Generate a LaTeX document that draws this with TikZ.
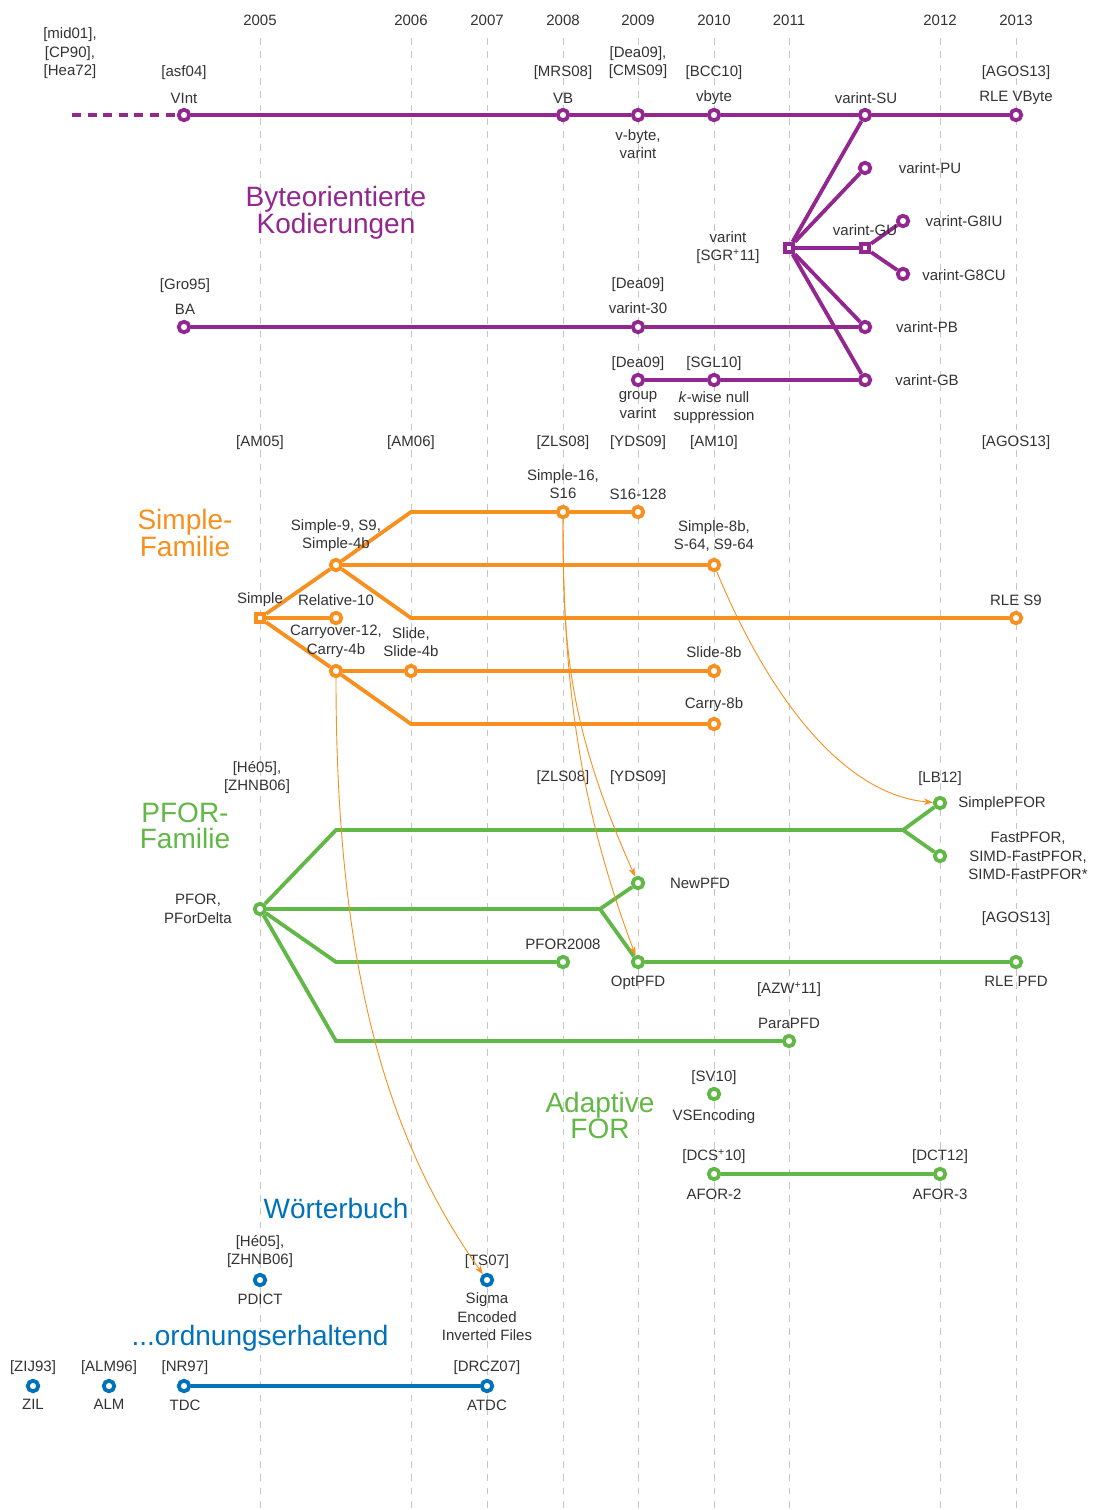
\documentclass[tikz,border=0pt]{standalone}
\usepackage{fontspec}
\setmainfont{Liberation Sans}
\usetikzlibrary{arrows.meta}
\definecolor{pur}{HTML}{92278F}
\definecolor{ora}{HTML}{F7901E}
\definecolor{grn}{HTML}{62B846}
\definecolor{blu}{HTML}{0071BB}
\definecolor{txt}{HTML}{333333}
\definecolor{gridc}{HTML}{C6C6C6}
\newcommand\lbfont{\fontsize{15}{18.5}\selectfont}
\newcommand\ttlfont{\fontsize{28}{26}\selectfont}

\begin{document}
\begin{tikzpicture}[x=1pt,y=-1pt,
  lb/.style={font=\lbfont, text=txt, align=center, inner sep=0pt, yshift=-1.7pt,
    execute at begin node=\strut, execute at end node=\strut},
  ttl/.style={font=\ttlfont, text=#1, align=center, inner sep=0pt, yshift=-4.8pt,
    execute at begin node=\strut, execute at end node=\strut},
  dot/.style={circle, draw=#1, fill=white, line width=3.8pt, inner sep=0pt, minimum size=10.5pt},
  sq/.style={rectangle, draw=#1, fill=white, line width=3.8pt, inner sep=0pt, minimum size=8.5pt},
  track/.style={draw=#1, line width=3.8pt},
  refarrow/.style={draw=ora, line width=0.9pt, -{Stealth[length=9pt,width=6.5pt]}},
  gridline/.style={draw=gridc, line width=0.9pt, dash pattern=on 6.7pt off 6.6pt}
]
\useasboundingbox[fill=white] (0,0) rectangle (1095,1510);

% year grid
\foreach \x/\yr in {260/2005,411/2006,487/2007,563/2008,638/2009,714/2010,789/2011,940/2012,1016/2013}{
  \draw[gridline] (\x,38) -- (\x,1510);
  \node[lb] at (\x,20) {\yr};
}

% ---------------- byte-oriented codes ----------------
\node[ttl=pur] at (336,209) {Byteorientierte\\Kodierungen};

\coordinate (vstart) at (72,115);
\node[dot=pur] (vint) at (184,115) {};
\node[dot=pur] (vb) at (563,115) {};
\node[dot=pur] (vbyte9) at (638,115) {};
\node[dot=pur] (vbyte10) at (714,115) {};
\node[dot=pur] (su) at (865,115) {};
\node[dot=pur] (rlevb) at (1016,115) {};
\node[dot=pur] (pu) at (865,168) {};
\node[sq=pur] (vsgr) at (789,248) {};
\node[sq=pur] (gu) at (865,248) {};
\node[dot=pur] (g8iu) at (903,221) {};
\node[dot=pur] (g8cu) at (903,274) {};
\node[dot=pur] (ba) at (184,327) {};
\node[dot=pur] (v30) at (638,327) {};
\node[dot=pur] (pb) at (865,327) {};
\node[dot=pur] (gv) at (638,380) {};
\node[dot=pur] (kw) at (714,380) {};
\node[dot=pur] (gb) at (865,380) {};

\draw[track=pur, dash pattern=on 9pt off 6.6pt] (vstart) -- (vint);
\draw[track=pur] (vint) -- (vb) -- (vbyte9) -- (vbyte10) -- (su) -- (rlevb);
\draw[track=pur] (vsgr) -- (su);
\draw[track=pur] (vsgr) -- (pu);
\draw[track=pur] (vsgr) -- (gu);
\draw[track=pur] (vsgr) -- (pb);
\draw[track=pur] (vsgr) -- (gb);
\draw[track=pur] (gu) -- (g8iu);
\draw[track=pur] (gu) -- (g8cu);
\draw[track=pur] (ba) -- (v30) -- (pb);
\draw[track=pur] (gv) -- (kw) -- (gb);

\node[lb] at (70,53) {[mid01],\\{[CP90],}\\{[Hea72]}};
\node[lb] at (184,71) {[asf04]};
\node[lb] at (184,98) {VInt};
\node[lb] at (563,71) {[MRS08]};
\node[lb] at (563,98) {VB};
\node[lb] at (638,62) {[Dea09],\\{[CMS09]}};
\node[lb] at (638,145) {v-byte,\\varint};
\node[lb] at (714,71) {[BCC10]};
\node[lb] at (714,96) {vbyte};
\node[lb] at (866,98) {varint-SU};
\node[lb] at (1016,71) {[AGOS13]};
\node[lb] at (1016,96) {RLE VByte};
\node[lb] at (930,168) {varint-PU};
\node[lb] at (964,221) {varint-G8IU};
\node[lb] at (964,275) {varint-G8CU};
\node[lb] at (865,230) {varint-GU};
\node[lb] at (728,247) {varint\\{[SGR\textsuperscript{+}11]}};
\node[lb] at (927,327) {varint-PB};
\node[lb] at (927,380) {varint-GB};
\node[lb] at (185,284) {[Gro95]};
\node[lb] at (185,309) {BA};
\node[lb] at (638,283) {[Dea09]};
\node[lb] at (638,308) {varint-30};
\node[lb] at (638,362) {[Dea09]};
\node[lb] at (714,362) {[SGL10]};
\node[lb] at (638,406) {group\\varint};
\node[lb] at (714,407) {\textit{k}-wise null\\suppression};

% ---------------- Simple family ----------------
\foreach \x/\r in {260/AM05,411/AM06,563/ZLS08,638/YDS09,714/AM10,1016/AGOS13}
  \node[lb] at (\x,441) {[\r]};

\node[ttl=ora] at (185,532) {Simple-\\Familie};

\node[sq=ora] (sim) at (260,618) {};
\node[dot=ora] (s9) at (336,565) {};
\node[dot=ora] (s16) at (563,512) {};
\node[dot=ora] (s16128) at (638,512) {};
\node[dot=ora] (s8b) at (714,565) {};
\node[dot=ora] (rel10) at (336,618) {};
\node[dot=ora] (rles9) at (1016,618) {};
\node[dot=ora] (c12) at (336,671) {};
\node[dot=ora] (slide) at (411,671) {};
\node[dot=ora] (slide8b) at (714,671) {};
\node[dot=ora] (carry8b) at (714,724) {};
\coordinate (o1) at (411,512);
\coordinate (o2) at (411,618);
\coordinate (o3) at (411,724);

\draw[track=ora] (sim) -- (s9);
\draw[track=ora] (sim) -- (rel10);
\draw[track=ora] (sim) -- (c12);
\draw[track=ora] (s9) -- (o1) -- (s16) -- (s16128);
\draw[track=ora] (s9) -- (s8b);
\draw[track=ora] (s9) -- (o2) -- (rles9);
\draw[track=ora] (c12) -- (slide) -- (slide8b);
\draw[track=ora] (c12) -- (o3) -- (carry8b);

\node[lb] at (563,485) {Simple-16,\\S16};
\node[lb] at (638,494) {S16-128};
\node[lb] at (336,535) {Simple-9, S9,\\Simple-4b};
\node[lb] at (714,536) {Simple-8b,\\S-64, S9-64};
\node[lb] at (260,598) {Simple};
\node[lb] at (336,600) {Relative-10};
\node[lb] at (336,641) {Carryover-12,\\Carry-4b};
\node[lb] at (411,643) {Slide,\\Slide-4b};
\node[lb] at (714,652) {Slide-8b};
\node[lb] at (714,703) {Carry-8b};
\node[lb] at (1016,600) {RLE S9};

% ---------------- PFOR family ----------------
\node[ttl=grn] at (185,825) {PFOR-\\Familie};

\node[dot=grn] (pfor) at (260,909) {};
\node[dot=grn] (spfor) at (940,803) {};
\node[dot=grn] (fpfor) at (940,856) {};
\node[dot=grn] (newpfd) at (638,883) {};
\node[dot=grn] (optpfd) at (638,962) {};
\node[dot=grn] (rlepfd) at (1016,962) {};
\node[dot=grn] (pfor08) at (563,962) {};
\node[dot=grn] (para) at (789,1041) {};
\node[dot=grn] (vse) at (714,1094) {};
\node[dot=grn] (afor2) at (714,1174) {};
\node[dot=grn] (afor3) at (940,1174) {};
\coordinate (g1) at (336,830);
\coordinate (gf1) at (903,830);
\coordinate (gf2) at (600,909);
\coordinate (g2) at (336,962);
\coordinate (g3) at (336,1041);

\draw[track=grn] (pfor) -- (g1) -- (gf1) -- (spfor);
\draw[track=grn] (gf1) -- (fpfor);
\draw[track=grn] (pfor) -- (gf2) -- (newpfd);
\draw[track=grn] (gf2) -- (optpfd) -- (rlepfd);
\draw[track=grn] (pfor) -- (g2) -- (pfor08);
\draw[track=grn] (pfor) -- (g3) -- (para);
\draw[track=grn] (afor2) -- (afor3);

\node[lb] at (257,777) {[Hé05],\\{[ZHNB06]}};
\node[lb] at (198,910) {PFOR,\\PForDelta};
\node[lb] at (563,776) {[ZLS08]};
\node[lb] at (638,776) {[YDS09]};
\node[lb] at (940,777) {[LB12]};
\node[lb] at (1002,802) {SimplePFOR};
\node[lb] at (1028,857) {FastPFOR,\\SIMD-FastPFOR,\\SIMD-FastPFOR*};
\node[lb] at (700,883) {NewPFD};
\node[lb] at (1016,917) {[AGOS13]};
\node[lb] at (563,944) {PFOR2008};
\node[lb] at (638,981) {OptPFD};
\node[lb] at (1016,981) {RLE PFD};
\node[lb] at (789,988) {[AZW\textsuperscript{+}11]};
\node[lb] at (789,1023) {ParaPFD};
\node[lb] at (714,1076) {[SV10]};
\node[lb] at (714,1115) {VSEncoding};
\node[ttl=grn] at (600,1114) {Adaptive\\FOR};
\node[lb] at (714,1155) {[DCS\textsuperscript{+}10]};
\node[lb] at (940,1155) {[DCT12]};
\node[lb] at (714,1194) {AFOR-2};
\node[lb] at (940,1194) {AFOR-3};

% ---------------- dictionary / order preserving ----------------
\node[ttl=blu] at (336,1207) {Wörterbuch};
\node[ttl=blu] at (260,1334) {...ordnungserhaltend};

\node[dot=blu] (pdict) at (260,1280) {};
\node[dot=blu] (sigma) at (487,1280) {};
\node[dot=blu] (zil) at (33,1386) {};
\node[dot=blu] (alm) at (109,1386) {};
\node[dot=blu] (tdc) at (184,1386) {};
\node[dot=blu] (atdc) at (487,1386) {};
\draw[track=blu] (tdc) -- (atdc);

\node[lb] at (260,1251) {[Hé05],\\{[ZHNB06]}};
\node[lb] at (260,1299) {PDICT};
\node[lb] at (487,1260) {[TS07]};
\node[lb] at (487,1318) {Sigma\\Encoded\\Inverted Files};
\node[lb] at (33,1366) {[ZIJ93]};
\node[lb] at (109,1366) {[ALM96]};
\node[lb] at (185,1366) {[NR97]};
\node[lb] at (487,1366) {[DRCZ07]};
\node[lb] at (33,1404) {ZIL};
\node[lb] at (109,1404) {ALM};
\node[lb] at (185,1405) {TDC};
\node[lb] at (487,1405) {ATDC};

% ---------------- derivation arrows ----------------
\draw[refarrow] (s8b) .. controls (770,700) and (845,795) .. (spfor);
\draw[refarrow] (s16) .. controls (563,640) and (566,722) .. (newpfd);
\draw[refarrow] (s16) .. controls (563,680) and (578,802) .. (optpfd);
\draw[refarrow] (c12) .. controls (336,950) and (380,1130) .. (sigma);

\end{tikzpicture}
\end{document}
